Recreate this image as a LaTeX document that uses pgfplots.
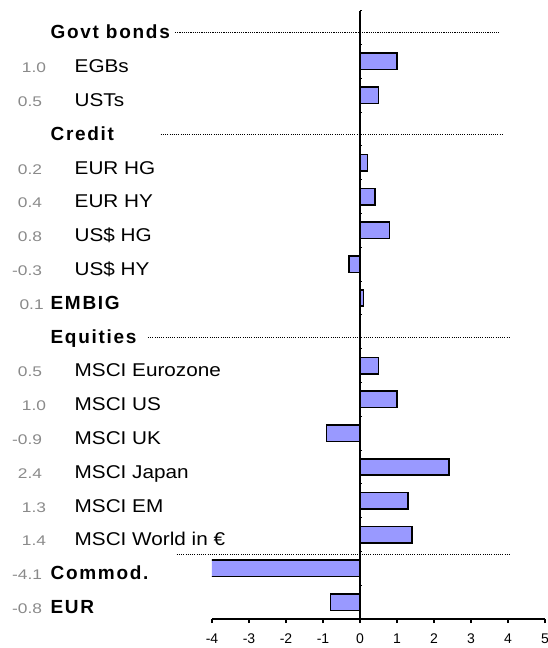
\documentclass[border=0pt]{standalone}
\usepackage{fontspec}
\usepackage{graphicx}
\usepackage{pgfplots}
\pgfplotsset{compat=1.18}
\setmainfont{Liberation Sans}
\newfontfamily\headfont[LetterSpace=9]{Liberation Sans}
\definecolor{barblue}{HTML}{9999FF}
\definecolor{numgray}{HTML}{8A8A8A}

% horizontally widened text, as in the original layout
\newcommand\wl[1]{\scalebox{1.12}[1]{#1}}
\newcommand\wv[1]{\scalebox{1.24}[1]{#1}}

% Rows are numbered from the bottom: EUR = 0 ... Govt bonds = 17
\pgfplotstableread{
row  chg
16   1.0
15   0.5
13   0.2
12   0.4
11   0.8
10  -0.3
9    0.1
7    0.5
6    1.0
5   -0.9
4    2.4
3    1.3
2    1.4
1   -4.1
0   -0.8
}\perfdata

\tikzset{
  lab/.style={anchor=base west, inner sep=0pt, xshift=-137.5pt, yshift=-11.3pt,
    font=\fontsize{18.5}{20}\selectfont},
  head/.style={anchor=base west, inner sep=0pt, xshift=-161.6pt, yshift=-11.3pt,
    font=\headfont\bfseries\fontsize{19}{20}\selectfont},
  val/.style={anchor=base east, inner sep=0pt, xshift=-169.7pt, yshift=-11.3pt,
    text=numgray, font=\fontsize{14}{16}\selectfont},
  valone/.style={val, xshift=4pt},
  sep/.style={line width=1pt, black, dash pattern=on 1.1pt off 1.1pt},
}

\begin{document}
\begin{tikzpicture}[x=1pt,y=1pt]
\useasboundingbox (0,0) rectangle (547,648);
\begin{axis}[
  at={(212pt,28.9pt)}, anchor=south west,
  scale only axis, width=333pt, height=608.4pt,
  xmin=-4, xmax=5, ymin=-0.5, ymax=17.5,
  axis x line*=bottom, axis y line=none,
  x axis line style={-, line width=1.6pt, black},
  xtick={-4,...,5},
  xticklabels={-4,-3,-2,-1,0,1,2,3,4,5},
  tick align=outside, major tick length=4pt,
  x tick style={line width=1.3pt, black},
  xticklabel style={font=\fontsize{14}{14}\selectfont, yshift=-7pt},
  clip mode=individual,
]
\addplot[xbar, bar width=16.5pt, fill=barblue, draw=black, line width=1.6pt]
  table[x=chg, y=row] {\perfdata};

% vertical zero line with small category ticks
\draw[line width=2pt, black] (axis cs:0,-0.5) -- (axis cs:0,17.5);
\pgfplotsinvokeforeach{-0.5,0.5,...,17.5}{
  \draw[line width=1pt, black] (axis cs:0,#1) -- ++(2.5pt,0pt);
}

% dotted group separators
\draw[sep] (axis cs:-5.0,16.85) -- (axis cs:3.757,16.85);
\draw[sep] (axis cs:-5.386,13.85) -- (axis cs:3.865,13.85);
\draw[sep] (axis cs:-5.73,7.82) -- (axis cs:4.035,7.82);
\draw[sep] (axis cs:-4.954,1.4) -- (axis cs:4.081,1.4);

% group headers and row labels
\node[head] at (axis cs:-4,17) {Govt bonds};
\node[valone] at (axis cs:-4,16) {\wv{1.0}}; \node[lab] at (axis cs:-4,16) {\wl{EGBs}};
\node[val] at (axis cs:-4,15) {\wv{0.5}};    \node[lab] at (axis cs:-4,15) {\wl{USTs}};
\node[head] at (axis cs:-4,14) {Credit};
\node[val] at (axis cs:-4,13) {\wv{0.2}};    \node[lab] at (axis cs:-4,13) {\wl{EUR HG}};
\node[val] at (axis cs:-4,12) {\wv{0.4}};    \node[lab] at (axis cs:-4,12) {\wl{EUR HY}};
\node[val] at (axis cs:-4,11) {\wv{0.8}};    \node[lab] at (axis cs:-4,11) {\wl{US\$ HG}};
\node[val] at (axis cs:-4,10) {\wv{-0.3}};   \node[lab] at (axis cs:-4,10) {\wl{US\$ HY}};
\node[val, xshift=1.6pt] at (axis cs:-4,9) {\wv{0.1}};
\node[head] at (axis cs:-4,9) {EMBIG};
\node[head] at (axis cs:-4,8) {Equities};
\node[val] at (axis cs:-4,7) {\wv{0.5}};     \node[lab] at (axis cs:-4,7) {\wl{MSCI Eurozone}};
\node[valone] at (axis cs:-4,6) {\wv{1.0}};  \node[lab] at (axis cs:-4,6) {\wl{MSCI US}};
\node[val] at (axis cs:-4,5) {\wv{-0.9}};    \node[lab] at (axis cs:-4,5) {\wl{MSCI UK}};
\node[val] at (axis cs:-4,4) {\wv{2.4}};     \node[lab] at (axis cs:-4,4) {\wl{MSCI Japan}};
\node[valone] at (axis cs:-4,3) {\wv{1.3}};  \node[lab] at (axis cs:-4,3) {\wl{MSCI EM}};
\node[valone] at (axis cs:-4,2) {\wv{1.4}};  \node[lab] at (axis cs:-4,2) {\wl{MSCI World in €}};
\node[val] at (axis cs:-4,1) {\wv{-4.1}};    \node[head] at (axis cs:-4,1) {Commod.};
\node[val] at (axis cs:-4,0) {\wv{-0.8}};    \node[head] at (axis cs:-4,0) {EUR};
\end{axis}
\end{tikzpicture}
\end{document}
